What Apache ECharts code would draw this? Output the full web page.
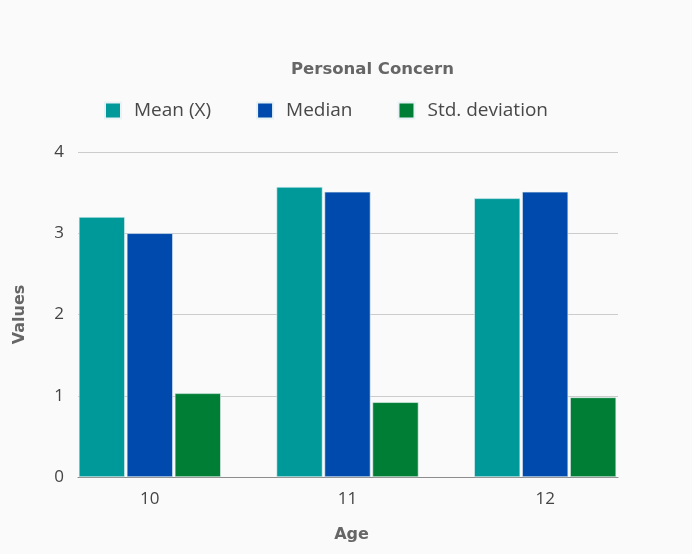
<!DOCTYPE html>
<html>
<head>
<meta charset="utf-8">
<script src="https://cdn.jsdelivr.net/npm/echarts@6/dist/echarts.min.js"></script>
<style>
  html, body { margin: 0; padding: 0; background: #fafafa; }
  #chart { width: 692px; height: 554px; }
</style>
</head>
<body>
<div id="chart"></div>
<script>
// data
const ages = ['10', '11', '12'];
const meanValues = [3.2, 3.57, 3.43];
const medianValues = [3.0, 3.51, 3.51];
const stdValues = [1.03, 0.92, 0.98];
const yTicks = [0, 1, 2, 3, 4];

const LABEL_FONT = '"Open Sans", "Noto Sans", sans-serif';
const BOLD_FONT = '"DejaVu Sans", sans-serif';

const chart = echarts.init(document.getElementById('chart'));

const barStyle = (color) => ({
  color: color,
  borderColor: '#e8f2f4',
  borderWidth: 0.6
});

const option = {
  backgroundColor: '#fafafa',
  animation: false,
  title: {
    text: 'Personal Concern',
    left: 286,
    top: 56,
    textStyle: {
      fontFamily: BOLD_FONT,
      fontSize: 16.5,
      fontWeight: 'bold',
      color: '#666666'
    }
  },
  legend: {
    left: 104,
    top: 101,
    padding: 0,
    itemWidth: 16,
    itemHeight: 16,
    itemGap: 45,
    icon: 'rect',
    textStyle: {
      fontFamily: LABEL_FONT,
      fontSize: 19,
      color: '#484848',
      padding: [0, 0, 0, 8]
    },
    data: ['Mean (X)', 'Median', 'Std. deviation']
  },
  grid: [
    // bars: categories spread so that outer groups touch the plot edges
    { left: 51, right: 48, top: 152, bottom: 77 },
    // frame: gridlines, y labels, base line
    { left: 78, right: 74, top: 152, bottom: 77 }
  ],
  xAxis: [
    {
      type: 'category',
      gridIndex: 0,
      data: ages,
      axisLine: { show: false },
      axisTick: { show: false },
      axisLabel: {
        margin: 14,
        fontFamily: LABEL_FONT,
        fontSize: 17,
        color: '#444444'
      },
      name: 'Age',
      nameLocation: 'middle',
      nameGap: 50,
      nameTextStyle: {
        fontFamily: BOLD_FONT,
        fontSize: 16,
        fontWeight: 'bold',
        color: '#666666',
        padding: [0, 0, 0, 8]
      }
    },
    {
      type: 'category',
      gridIndex: 1,
      data: ages,
      axisLine: { show: true, lineStyle: { color: '#8c8c8c', width: 1 } },
      axisTick: { show: false },
      axisLabel: { show: false }
    }
  ],
  yAxis: [
    {
      type: 'value',
      gridIndex: 0,
      min: 0,
      max: 4,
      interval: 1,
      show: false
    },
    {
      type: 'value',
      gridIndex: 1,
      min: yTicks[0],
      max: yTicks[yTicks.length - 1],
      interval: 1,
      axisLine: { show: false },
      axisTick: { show: false },
      splitLine: { lineStyle: { color: '#cccccc', width: 1 } },
      axisLabel: {
        margin: 14,
        fontFamily: LABEL_FONT,
        fontSize: 17,
        color: '#444444'
      },
      name: 'Values',
      nameLocation: 'middle',
      nameGap: 50,
      nameRotate: 90,
      nameTextStyle: {
        fontFamily: BOLD_FONT,
        fontSize: 16,
        fontWeight: 'bold',
        color: '#666666'
      }
    }
  ],
  series: [
    {
      name: 'Mean (X)',
      type: 'bar',
      xAxisIndex: 0,
      yAxisIndex: 0,
      barWidth: 46,
      barGap: '4.3%',
      itemStyle: barStyle('#00999a'),
      data: meanValues
    },
    {
      name: 'Median',
      type: 'bar',
      xAxisIndex: 0,
      yAxisIndex: 0,
      barWidth: 46,
      barGap: '4.3%',
      itemStyle: barStyle('#004aad'),
      data: medianValues
    },
    {
      name: 'Std. deviation',
      type: 'bar',
      xAxisIndex: 0,
      yAxisIndex: 0,
      barWidth: 46,
      barGap: '4.3%',
      itemStyle: barStyle('#007e35'),
      data: stdValues
    }
  ]
};

chart.setOption(option);
</script>
</body>
</html>
